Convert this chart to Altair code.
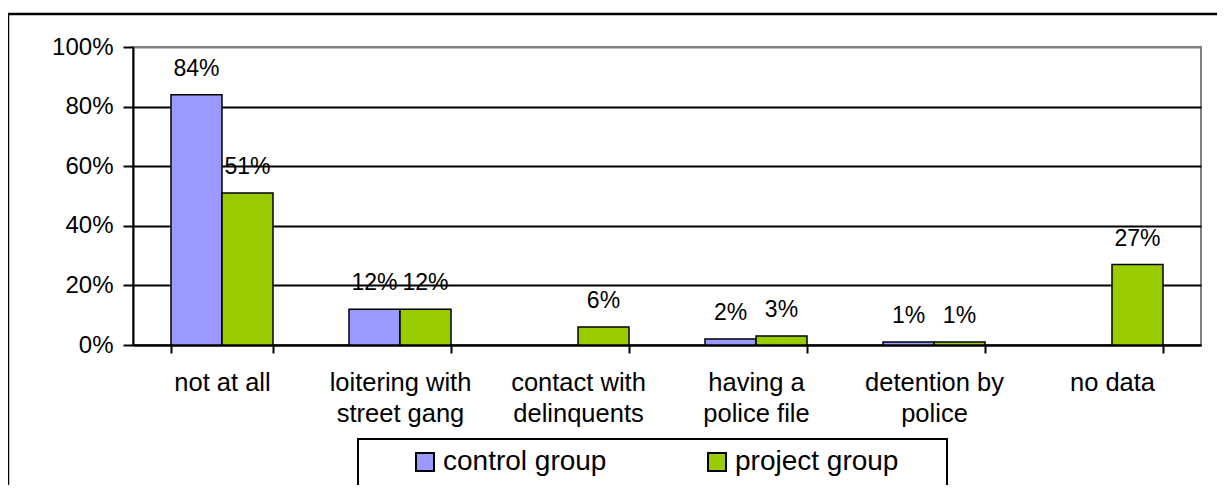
import altair as alt
import pandas as pd

categories = [
    "not at all",
    "loitering with\nstreet gang",
    "contact with\ndelinquents",
    "having a\npolice file",
    "detention by\npolice",
    "no data",
]
groups = ["control group", "project group"]
control_values = [0.84, 0.12, None, 0.02, 0.01, None]
project_values = [0.51, 0.12, 0.06, 0.03, 0.01, 0.27]
y_ticks = [0, 0.2, 0.4, 0.6, 0.8, 1.0]
colors = ["#9999FF", "#99CC00"]

rows = []
for cat, c, p in zip(categories, control_values, project_values):
    if c is not None:
        rows.append({"category": cat, "group": groups[0], "value": c})
    if p is not None:
        rows.append({"category": cat, "group": groups[1], "value": p})
df = pd.DataFrame(rows)

FONT = "Liberation Sans"

x_enc = alt.X(
    "category:N",
    sort=categories,
    scale=alt.Scale(paddingInner=0.427, paddingOuter=0.2135),
    axis=alt.Axis(
        title=None,
        labelAngle=0,
        labelExpr="split(datum.label, '\\n')",
        tickBand="extent",
        tickSize=8,
        tickColor="black",
        tickWidth=2,
        domainColor="black",
        domainWidth=2,
        labelFont=FONT,
        labelFontSize=25.5,
        labelColor="black",
        labelLineHeight=31,
        labelPadding=17,
        labelLimit=0,
        grid=False,
    ),
)
xo_enc = alt.XOffset("group:N", sort=groups, scale=alt.Scale(paddingInner=0, paddingOuter=0))
y_enc = alt.Y(
    "value:Q",
    scale=alt.Scale(domain=[0, 1], nice=False),
    axis=alt.Axis(
        title=None,
        values=y_ticks,
        format=".0%",
        tickSize=10,
        tickColor="black",
        tickWidth=2,
        domainColor="black",
        domainWidth=2,
        labelFont=FONT,
        labelFontSize=24,
        labelColor="black",
        labelPadding=10,
        grid=True,
        gridWidth=2,
        gridColor=alt.condition("datum.value >= 0.99", alt.value("#808080"), alt.value("black")),
    ),
)

bars = alt.Chart(df).mark_bar(stroke="black", strokeWidth=1.5).encode(
    x=x_enc,
    xOffset=xo_enc,
    y=y_enc,
    color=alt.Color(
        "group:N",
        sort=groups,
        scale=alt.Scale(domain=groups, range=colors),
        legend=alt.Legend(
            title=None,
            orient="none",
            legendX=278,
            legendY=401,
            direction="horizontal",
            columns=2,
            symbolType="square",
            symbolSize=324,
            symbolStrokeColor="black",
            symbolStrokeWidth=2,
            symbolOpacity=1,
            labelFont=FONT,
            labelFontSize=28,
            labelColor="black",
            labelOffset=4,
            labelLimit=400,
            columnPadding=96,
            padding=0,
        ),
    ),
)

labels = alt.Chart(df).mark_text(
    dy=-26, baseline="middle", fontSize=23, font=FONT, color="black"
).encode(
    x=alt.X("category:N", sort=categories),
    xOffset=alt.XOffset("group:N", sort=groups),
    y=alt.Y("value:Q"),
    text=alt.Text("value:Q", format=".0%"),
)

deco = pd.DataFrame({"a": [0]})
frame = alt.Chart(deco).mark_rect(fillOpacity=0, stroke="black", strokeWidth=2.5).encode(
    x=alt.value(-125), x2=alt.value(1110), y=alt.value(-33), y2=alt.value(470)
)
legend_box = alt.Chart(deco).mark_rect(fill="white", stroke="black", strokeWidth=2).encode(
    x=alt.value(225), x2=alt.value(814), y=alt.value(392), y2=alt.value(443)
)

chart = alt.layer(frame, legend_box, bars, labels).properties(
    width=1068,
    height=298,
    autosize=alt.AutoSizeParams(type="none"),
    padding={"left": 125, "top": 39, "right": 16, "bottom": 140},
    background="white",
).configure_view(stroke="#808080", strokeWidth=2)

chart.save("out.html", embed_options={"renderer": "svg", "actions": False})
